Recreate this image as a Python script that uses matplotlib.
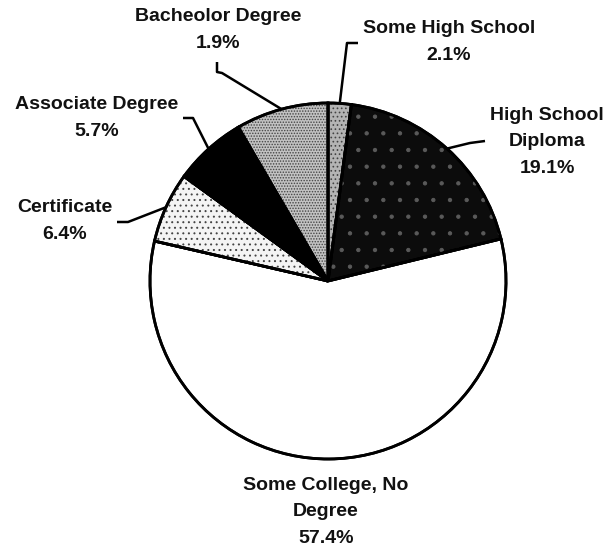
import matplotlib
matplotlib.use("Agg")
import matplotlib.pyplot as plt
from matplotlib.patches import Wedge
import numpy as np

# wedge order: clockwise from 12 o'clock
labels = ["Some High School", "High School\nDiploma", "Some College, No\nDegree",
          "Certificate", "Associate Degree", "Bacheolor Degree"]
printed_pct = ["2.1%", "19.1%", "57.4%", "6.4%", "5.7%", "1.9%"]
# wedge sizes as drawn in the chart (in percent)
sizes = [2.1, 19.1, 57.4, 6.4, 6.6, 8.4]

# --- layout (pixel coords, y measured from the top of the image) ---
W, H = 607, 551
cx, cy, r = 328, 281, 178
fills = ["#b4b4b4", "#0c0c0c", "white", "#f4f4f4", "black", "#c2c2c2"]
hatches = ["....", None, None, "...", None, "......"]
label_xy = [(449, 42), (547, 142), (326, 512), (65, 221), (97, 118), (218, 30)]
# leader line: points from the label towards the pie (edge point is added from the wedge)
leaders = [[(358, 43), (347, 43)],
           [(485, 141), (470, 143)],
           None,
           [(117, 222), (128, 222)],
           [(183, 118), (193, 118)],
           [(217, 62), (217, 72), (222, 73)]]

plt.rcParams['font.family'] = ['Liberation Sans', 'DejaVu Sans']
plt.rcParams['hatch.linewidth'] = 0.7

fig = plt.figure(figsize=(W / 100, H / 100), dpi=100)
ax = fig.add_axes([0, 0, 1, 1])

wedges, _ = ax.pie(sizes, colors=fills, startangle=90, counterclock=False,
                   center=(cx, H - cy), radius=r,
                   wedgeprops=dict(edgecolor='black', linewidth=2.0))

for w, h in zip(wedges, hatches):
    if h:
        ax.add_patch(Wedge(w.center, w.r, w.theta1, w.theta2, facecolor='none',
                           edgecolor='#444444', linewidth=0, hatch=h, zorder=w.get_zorder() + 0.1))
# faint speckle on the dark wedge
w = wedges[1]
ax.add_patch(Wedge(w.center, w.r, w.theta1, w.theta2, facecolor='none',
                   edgecolor='#5a5a5a', linewidth=0, hatch='.', zorder=w.get_zorder() + 0.1))
# redraw outlines on top
for w in wedges:
    ax.add_patch(Wedge(w.center, w.r, w.theta1, w.theta2, facecolor='none',
                       edgecolor='black', linewidth=2.0, zorder=5))

for i, w in enumerate(wedges):
    lx, ly = label_xy[i]
    ax.text(lx, H - ly, labels[i] + "\n" + printed_pct[i], ha='center', va='center',
            multialignment='center', fontsize=14, fontweight='bold', linespacing=1.7,
            color='#111111')
    if leaders[i] is None:
        continue
    mid = np.deg2rad((w.theta1 + w.theta2) / 2)
    ex, ey = cx + r * np.cos(mid), (H - cy) + r * np.sin(mid)
    xs = [p[0] for p in leaders[i]] + [ex]
    ys = [H - p[1] for p in leaders[i]] + [ey]
    ax.plot(xs, ys, color='black', lw=1.8, zorder=6, solid_capstyle='butt')

ax.set_xlim(0, W)
ax.set_ylim(0, H)
ax.set_aspect('equal')
ax.axis('off')

fig.savefig('out.png', dpi=100, facecolor='white')
